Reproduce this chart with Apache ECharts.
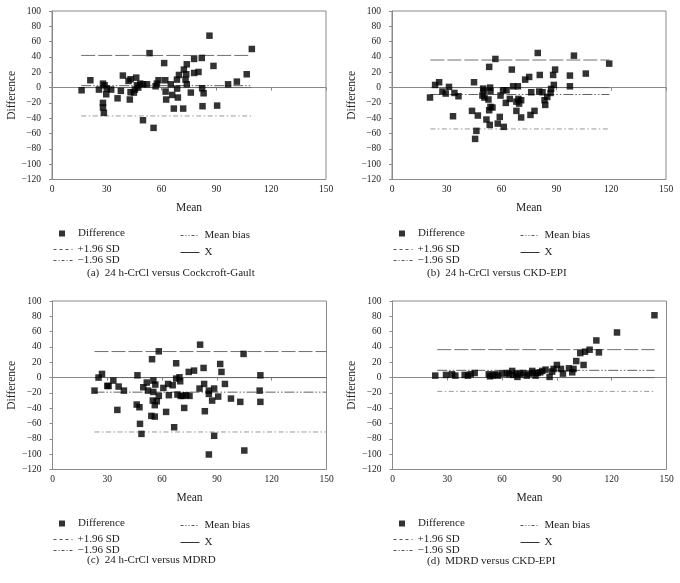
<!DOCTYPE html>
<html><head><meta charset="utf-8">
<script src="https://cdn.jsdelivr.net/npm/echarts@6/dist/echarts.min.js"></script>
<style>html,body{margin:0;padding:0;background:#fff}#c{width:680px;height:583px}</style>
</head><body><div id="c"></div>
<script>
// ---- data ----
const captions = [
  '(a)  24 h-CrCl versus Cockcroft-Gault',
  '(b)  24 h-CrCl versus CKD-EPI',
  '(c)  24 h-CrCl versus MDRD',
  '(d)  MDRD versus CKD-EPI'
];
const seriesNames = ['Difference', '+1.96 SD', '\u22121.96 SD', 'Mean bias', 'X'];
const xRange = [0, 150];
const yRange = [-120, 100];

const pointsA = [[16.2,-3.5],[21,9.6],[25.7,-2.6],[27.9,5.2],[27.9,-20],[27.9,-26],[28.4,-33],[28.8,3],[29.7,-8.7],[30,-1.3],[32.4,-2.6],[35.9,-14],[37.7,-4.3],[38.8,15.7],[41.9,8.7],[42.6,-15.6],[43,10.9],[43,-6],[44.8,-6.5],[45.4,-2.6],[46.1,13],[46.5,3],[47.2,0],[48.3,5.2],[49.8,-42.6],[49.8,4.3],[52,4.3],[53.4,45],[55.6,-52.6],[56.7,1.7],[57.4,5.2],[58.3,9.6],[61.4,32],[62,9.6],[62.2,-5.2],[62.5,-15.6],[65,4.3],[65.8,-9.6],[66.7,-27.4],[68.4,10.4],[68.5,-1.3],[68.9,-13],[69.5,16.5],[71.8,-27.4],[72.2,23.5],[73.1,10.4],[73.5,17.4],[73.8,30.4],[73.8,4.3],[76,-6.5],[77.8,37.4],[77.8,19.1],[80.2,20.4],[82,38.7],[82.2,-0.9],[82.4,-24.3],[83,-7.4],[86.2,67.8],[88.4,28.3],[90.4,-23.5],[96.4,4.3],[101.2,7.8],[106.6,17.4],[109.4,50.4]];
const pointsB = [[20.8,-13],[23.6,3.5],[25.8,7],[27.6,-5.2],[29.4,-7.8],[31.2,0.9],[33.4,-37.4],[34.2,-7],[36.4,-11.3],[43.8,-30.4],[44.9,7],[45.5,-67],[46.2,-56.5],[47,-36.5],[49.5,-10.4],[49.9,-1.3],[50.2,-4.3],[50.6,-13],[51.7,-41.7],[52.8,-15.6],[53.2,27],[53.2,-29.6],[53.5,-48.7],[53.7,0],[53.9,-4.3],[53.9,-25.2],[55,-26],[56.6,37.4],[57.9,-47],[59,-38.3],[59.4,-10.4],[60.8,-3.5],[61.2,-51.3],[62.3,-20],[62.7,-3.5],[64.5,-14.8],[65.6,23.5],[66.3,1.7],[68.1,-18.3],[68.1,-30.4],[68.9,1.7],[69.2,-14.8],[69.6,-20.9],[70.7,-16.5],[70.7,-39],[72.9,10.4],[75.1,13.9],[75.8,-35.7],[76.2,-6.1],[78,-30.4],[79.8,45.2],[80.6,-5.2],[80.9,16.5],[82.4,-6.1],[83.5,-16.5],[83.9,-22.6],[85,-12.2],[86.8,-7],[87.1,-1.7],[88.2,16.5],[88.6,3.5],[89.3,23.5],[97.4,15.7],[97.4,1.7],[99.6,41.7],[106.1,18.3],[118.9,31.3]];
const pointsC = [[23,-17],[25.2,0],[27.1,4.8],[30,-10.9],[30.7,-10.9],[33.3,-3.9],[35.5,-42.2],[36.2,-11.7],[39.1,-17],[46.5,3],[46.1,-35.2],[47.6,-38.7],[47.9,-60.4],[48.7,-73.5],[49.7,-12.6],[51.6,-6.5],[52.3,-17],[54.1,-50],[54.5,24],[54.9,-30],[55.2,-3.9],[55.2,-18.7],[56,-50.9],[56,-36],[56.3,-9.1],[57.1,-30.9],[58.2,34.3],[58.2,-23.9],[60.7,-13.5],[62.2,-44.8],[63.3,-8.3],[63.7,-23],[65.8,-10],[66.6,-64.8],[67.7,18.7],[67.7,-1.3],[68.4,-22.2],[69.5,0.4],[69.9,-4.8],[70.2,-23.9],[71.3,-23.9],[72.1,-39.6],[73.2,-23],[74.6,7.4],[75,-23.9],[77.5,9.1],[80.5,-14.3],[80.8,43],[82.7,12.6],[83,-8.3],[83.4,-43.9],[85.6,-17],[85.6,-21.3],[85.6,-100.4],[87.4,-30],[88.5,-14.3],[88.5,-76],[90.7,-24.8],[91.8,17.8],[92.5,7.4],[94.4,-8.3],[97.7,-27.4],[102.8,-31.7],[104.6,30.9],[105,-95.2],[113.4,-17],[113.8,3],[113.8,-31.7]];
const pointsD = [[23.4,2.6],[29.3,3.5],[32.6,4.3],[34.4,2.6],[39.5,3.5],[41.3,2.6],[42.8,4.3],[45,6],[52.7,4.3],[53.4,1.7],[54.9,2.6],[56.3,4.3],[57.8,2.6],[60,5.2],[62.6,6],[63.7,4.3],[65.5,8.7],[66.2,3.5],[67.7,5.2],[68.4,0.9],[69.9,4.3],[71.3,6],[73.5,2.6],[74.6,5.2],[76.5,8.7],[77.2,6],[78.3,2.6],[79.4,6],[80.9,6.9],[82,8.7],[83.8,10.4],[86,0.9],[87.4,7.8],[88.2,11.3],[90,16.5],[92.2,11.3],[93.3,5.2],[96.6,12.1],[98.4,6.9],[99.1,11.3],[100.6,21.6],[102.8,32],[104.6,16.5],[105.4,33.8],[107.9,36.4],[111.6,48.5],[113,32.9],[122.9,58.9],[143.4,81.4]];

// limit lines: [xStart, xEnd, upper(+1.96 SD), mean bias, lower(-1.96 SD), X line]
const limitsA = [16, 109, 42, 2.5, -37, 0];
const limitsB = [21, 119, 36, -9, -54, 0];
const limitsC = [23, 150, 34, -19, -71, 0];
const limitsD = [24.5, 143.5, 36.5, 9.5, -18, 0];

const allPoints = [pointsA, pointsB, pointsC, pointsD];
const allLimits = [limitsA, limitsB, limitsC, limitsD];

// ---- layout ----
const FONT = '"Liberation Serif", "DejaVu Serif", serif';
const gridPos = [
  {left: 52, top: 11}, {left: 392, top: 11},
  {left: 52.5, top: 301}, {left: 392.5, top: 301}
];
const GW = 274, GH = 168.5;
const captionTop = [268, 268, 555, 556];
const legendBase = [0, 0, 290, 290];
const axisColor = '#8a8a8a';

const lineStyles = {
  '+1.96 SD': {color: '#707070', width: 1, type: [14, 3]},
  'Mean bias': {color: '#606060', width: 1, type: [10, 2, 1.5, 2, 1.5, 2]},
  '\u22121.96 SD': {color: '#9a9a9a', width: 1, type: [5, 2.5, 1.5, 2.5]},
  'X': {color: '#666', width: 1, type: 'solid'}
};
const legendLineStyles = {
  '+1.96 SD': {color: '#555', width: 1, type: [3, 3]},
  'Mean bias': {color: '#555', width: 1, type: [3, 2, 1, 2, 1, 2]},
  '\u22121.96 SD': {color: '#555', width: 1, type: [3, 2, 1, 2]},
  'X': {color: '#333', width: 1, type: 'solid'}
};

const grids = [], xAxes = [], yAxes = [], series = [], legends = [], titles = [];
const fmt = v => String(v).replace('-', '\u2212');

for (let p = 0; p < 4; p++) {
  const g = gridPos[p];
  grids.push({left: g.left, top: g.top, width: GW, height: GH, show: true,
    borderColor: axisColor, borderWidth: 1, containLabel: false});
  xAxes.push({type: 'value', gridIndex: p, min: xRange[0], max: xRange[1], interval: 30,
    name: 'Mean', nameLocation: 'middle', nameGap: 22,
    nameTextStyle: {fontFamily: FONT, fontSize: 11.5, color: '#222'},
    axisLine: {show: true, lineStyle: {color: axisColor}},
    axisTick: {show: true, length: 3, lineStyle: {color: axisColor}},
    axisLabel: {fontFamily: FONT, fontSize: 9.5, color: '#222', margin: 5},
    splitLine: {show: false}});
  yAxes.push({type: 'value', gridIndex: p, min: yRange[0], max: yRange[1], interval: 20,
    name: 'Difference', nameLocation: 'middle', nameGap: 32, nameRotate: 90,
    nameTextStyle: {fontFamily: FONT, fontSize: 11.5, color: '#222'},
    axisLine: {show: true, lineStyle: {color: axisColor}},
    axisTick: {show: true, length: 3, lineStyle: {color: axisColor}},
    axisLabel: {fontFamily: FONT, fontSize: 9.5, color: '#222', margin: 11, formatter: fmt},
    splitLine: {show: false}});

  const L = allLimits[p];
  const mk = (name, y) => ({
    type: 'line', name: name, xAxisIndex: p, yAxisIndex: p, symbol: 'none',
    data: [[L[0], y], [L[1], y]], lineStyle: lineStyles[name], z: 2,
    itemStyle: {color: lineStyles[name].color}, silent: true, animation: false
  });
  series.push(mk('+1.96 SD', L[2]));
  series.push(mk('Mean bias', L[3]));
  series.push(mk('\u22121.96 SD', L[4]));
  series.push(mk('X', L[5]));
  series.push({type: 'scatter', name: 'Difference', xAxisIndex: p, yAxisIndex: p,
    symbol: 'rect', symbolSize: 6.5, itemStyle: {color: '#000'}, data: allPoints[p],
    z: 5, animation: false});

  const ox = (p % 2) * 340, oy = legendBase[p];
  const lt = {fontFamily: FONT, fontSize: 11, color: '#222'};
  const leg = (name, left, cy) => ({
    data: [name], left: left, top: cy - 6, padding: 0, itemWidth: 19, itemHeight: 12,
    itemGap: 0, textStyle: lt, selectedMode: false,
    itemStyle: {opacity: 0}, lineStyle: legendLineStyles[name]
  });
  legends.push({
    data: [{name: 'Difference', icon: 'rect'}], left: ox + 59, top: oy + 234 - 6,
    padding: 0, itemWidth: 6, itemHeight: 6, itemGap: 0, selectedMode: false,
    itemStyle: {color: '#000'},
    textStyle: Object.assign({padding: [0, 0, 0, 8]}, lt)
  });
  legends.push(leg('+1.96 SD', ox + 53, oy + 250));
  legends.push(leg('\u22121.96 SD', ox + 53, oy + 261));
  legends.push(leg('Mean bias', ox + 180, oy + 236));
  legends.push(leg('X', ox + 180, oy + 253));

  titles.push({text: captions[p], left: ox + 87, top: captionTop[p], padding: 0,
    textStyle: {fontFamily: FONT, fontSize: 11, fontWeight: 'normal', color: '#222'}});
}

const chart = echarts.init(document.getElementById('c'), null, {renderer: 'canvas'});
chart.setOption({
  animation: false,
  backgroundColor: '#fff',
  title: titles,
  grid: grids,
  xAxis: xAxes,
  yAxis: yAxes,
  legend: legends,
  series: series
});
</script></body></html>
